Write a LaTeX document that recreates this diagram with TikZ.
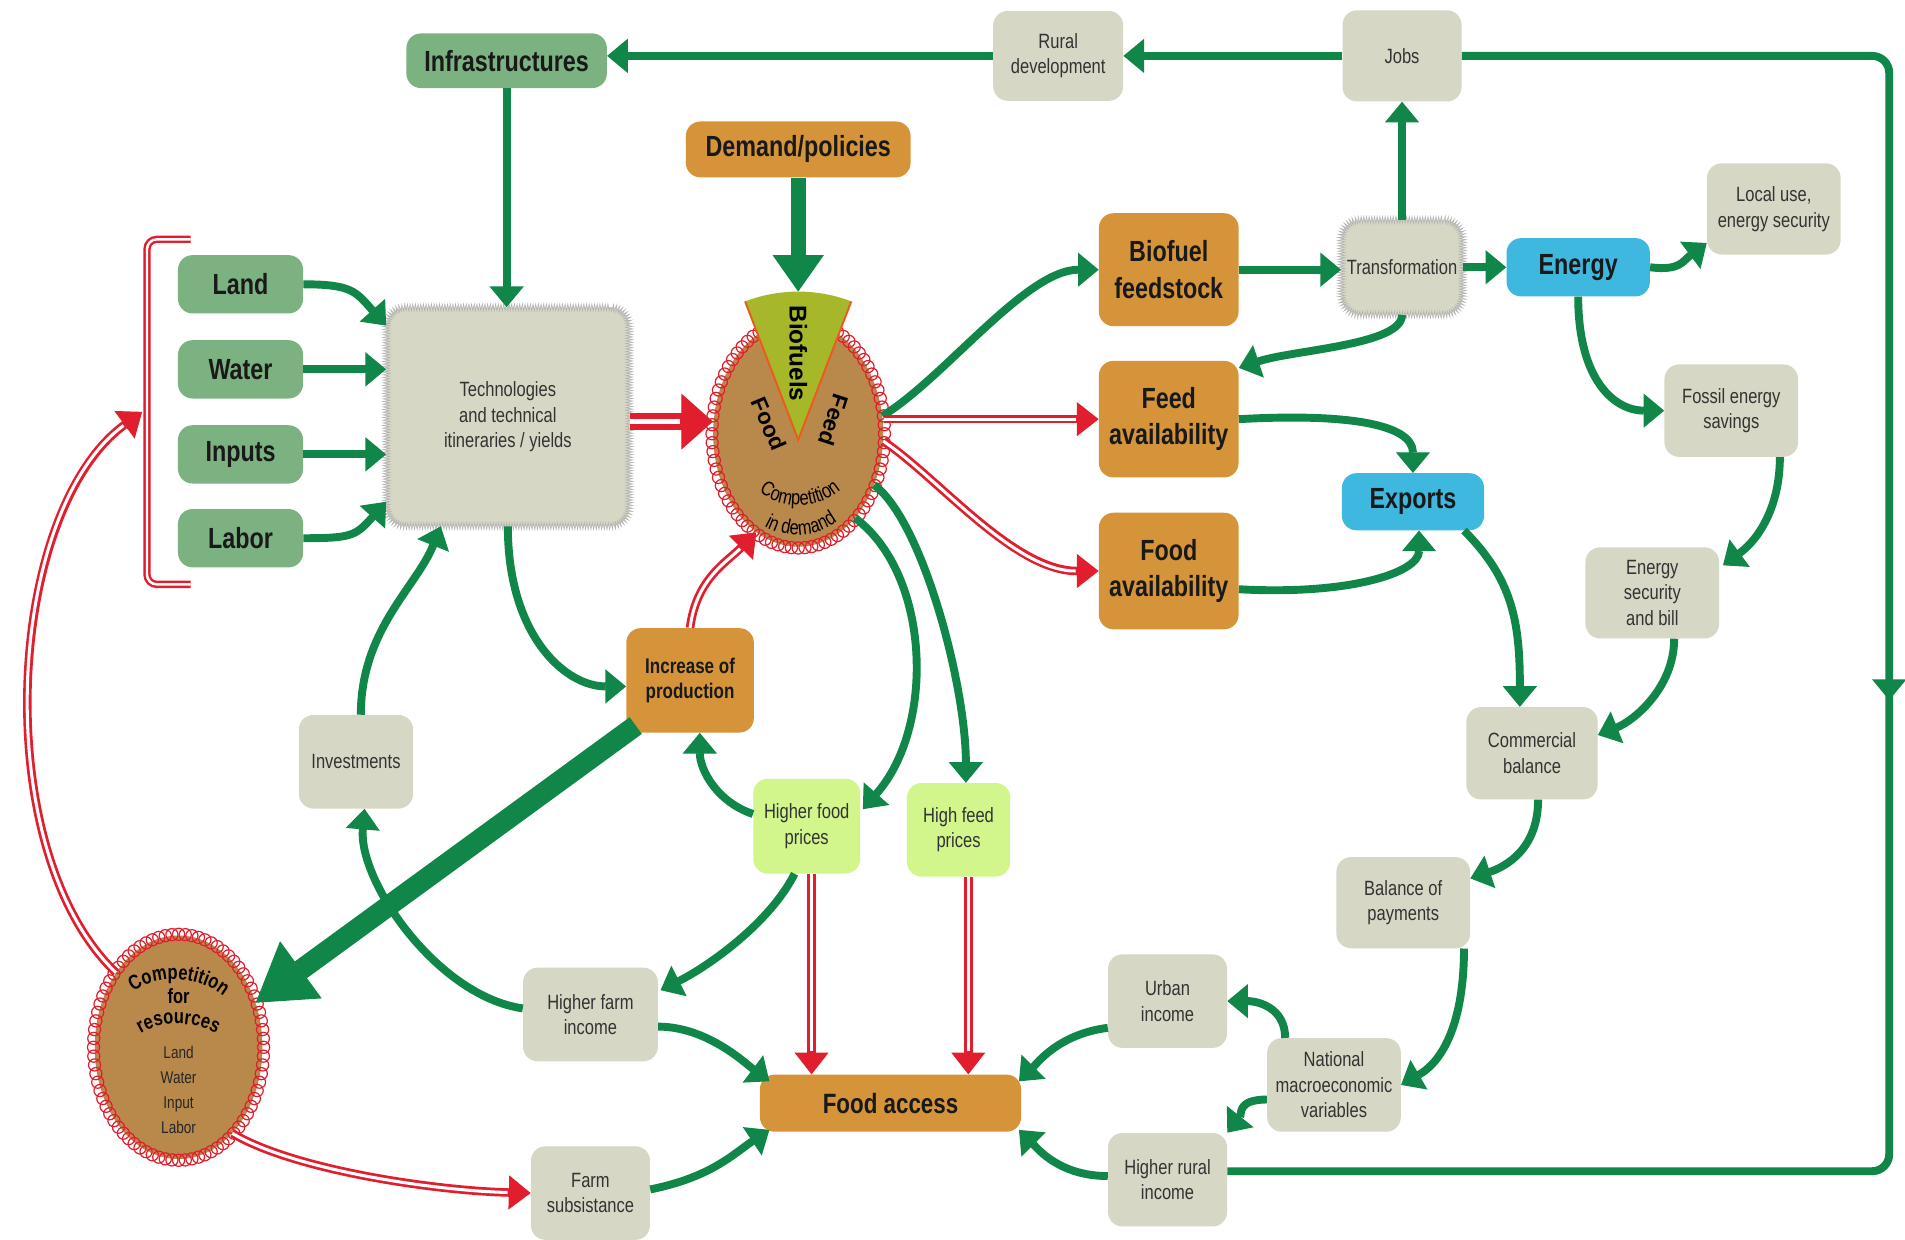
\documentclass[tikz,border=0pt]{standalone}
\usepackage{fontspec}
\setmainfont{Liberation Sans}[FakeStretch=0.8]
\newfontfamily\widefont{Liberation Sans}
\usetikzlibrary{arrows.meta,calc,positioning,shapes.geometric,decorations.text,decorations.markings,decorations.pathmorphing}

\definecolor{arrowgreen}{RGB}{16,135,72}
\definecolor{boxgreen}{RGB}{124,178,130}
\definecolor{boxbeige}{RGB}{215,215,197}
\definecolor{boxorange}{RGB}{214,148,58}
\definecolor{boxblue}{RGB}{62,184,222}
\definecolor{boxlime}{RGB}{210,245,140}
\definecolor{circbrown}{RGB}{185,137,75}
\definecolor{wedgegreen}{RGB}{166,184,42}
\definecolor{wedgeline}{RGB}{235,90,30}
\definecolor{arrowred}{RGB}{225,30,45}

\tikzstyle{box} = [rounded corners=12pt, inner sep=2pt, align=center, text=black!90]
\tikzstyle{greenbox} = [box, fill=boxgreen, font=\bfseries\fontsize{24}{28}\selectfont]
\tikzstyle{orangebox} = [box, fill=boxorange, font=\bfseries\fontsize{24}{30}\selectfont]
\tikzstyle{bluebox} = [box, fill=boxblue, font=\bfseries\fontsize{24}{28}\selectfont]
\tikzstyle{beigebox} = [box, fill=boxbeige, text=black!80, font=\fontsize{17}{21}\selectfont]
\tikzstyle{limebox} = [beigebox, fill=boxlime]
\tikzstyle{fuzzybox} = [beigebox, rounded corners=16pt, postaction={draw=gray!60, line width=0.5pt, sharp corners, decorate, decoration={zigzag, segment length=2.2pt, amplitude=2.8pt}}]
\tikzstyle{brownell} = [ellipse, fill=circbrown, inner sep=0pt]
\tikzstyle{gline} = [draw=arrowgreen, line width=6.5pt]
\tikzstyle{garrow} = [gline, -{Triangle[width=28pt,length=17pt,line width=1pt]}]
\tikzstyle{thickgarrow} = [draw=arrowgreen, line width=12pt, -{Triangle[width=42pt,length=30pt,line width=1pt]}]
\tikzstyle{hugegarrow} = [draw=arrowgreen, line width=17pt, -{Triangle[width=58pt,length=46pt,line width=1pt]}]
\tikzstyle{rarrow} = [draw=arrowred, line width=7pt, -{Triangle[width=28pt,length=18pt,line width=1pt]}, postaction={draw=white, line width=2.5pt, arrows=-, shorten >=19pt}]
\tikzstyle{bigrarrow} = [draw=arrowred, line width=14pt, -{Triangle[width=46pt,length=26pt,line width=1pt]}, postaction={draw=white, line width=4pt, arrows=-, shorten >=27pt}]
\tikzstyle{rline} = [draw=arrowred, line width=6pt, postaction={draw=white, line width=2pt}]
\tikzstyle{ringloop} = [draw=arrowred, line width=1pt]

\begin{document}
\begin{tikzpicture}[x=1pt, y=-1pt]
\useasboundingbox (0,0) rectangle (1568,1020);
\fill[white] (0,0) rectangle (1568,1020);

%top row
\node[greenbox, minimum width=165pt, minimum height=45pt] (infra) at (417,50) {Infrastructures};
\node[beigebox, minimum width=107pt, minimum height=74pt] (rural) at (871,46) {Rural\\development};
\node[beigebox, minimum width=98pt, minimum height=75pt] (jobs) at (1154,46) {Jobs};
\node[orangebox, minimum width=185pt, minimum height=46pt] (demand) at (657,123) {Demand/policies};

%resources
\node[greenbox, minimum width=103pt, minimum height=48pt] (land) at (198,234) {Land};
\node[greenbox, minimum width=103pt, minimum height=48pt] (water) at (198,304) {Water};
\node[greenbox, minimum width=103pt, minimum height=48pt] (inputs) at (198,374) {Inputs};
\node[greenbox, minimum width=103pt, minimum height=48pt] (labor) at (198,443) {Labor};
\node[fuzzybox, minimum width=200pt, minimum height=180pt] (tech) at (418,343) {Technologies\\and technical\\itineraries / yields};

%biofuel chain
\node[orangebox, minimum width=115pt, minimum height=93pt] (biofuel) at (962,222) {Biofuel\\feedstock};
\node[fuzzybox, minimum width=100pt, minimum height=78pt] (transf) at (1154,220) {Transformation};
\node[bluebox, minimum width=118pt, minimum height=48pt] (energy) at (1299,220) {Energy};
\node[beigebox, minimum width=110pt, minimum height=75pt] (localuse) at (1460,172) {Local use,\\energy security};
\node[orangebox, minimum width=115pt, minimum height=96pt] (feedav) at (962,345) {Feed\\availability};
\node[orangebox, minimum width=115pt, minimum height=96pt] (foodav) at (962,470) {Food\\availability};
\node[beigebox, minimum width=110pt, minimum height=76pt] (fossil) at (1425,338) {Fossil energy\\savings};
\node[bluebox, minimum width=117pt, minimum height=47pt] (exports) at (1163,413) {Exports};
\node[beigebox, minimum width=110pt, minimum height=75pt] (ensec) at (1360,488) {Energy\\security\\and bill};
\node[beigebox, minimum width=108pt, minimum height=76pt] (commerc) at (1261,620) {Commercial\\balance};
\node[beigebox, minimum width=110pt, minimum height=75pt] (balance) at (1155,743) {Balance of\\payments};
\node[beigebox, minimum width=110pt, minimum height=77pt] (natmacro) at (1098,893) {National\\macroeconomic\\variables};
\node[beigebox, minimum width=98pt, minimum height=77pt] (urban) at (961,824) {Urban\\income};
\node[beigebox, minimum width=98pt, minimum height=77pt] (hrural) at (961,971) {Higher rural\\income};

%middle and bottom
\node[orangebox, minimum width=105pt, minimum height=86pt, font=\bfseries\fontsize{17.5}{21}\selectfont] (incr) at (568,560) {Increase of\\production};
\node[beigebox, minimum width=94pt, minimum height=77pt] (invest) at (293,627) {Investments};
\node[limebox, minimum width=88pt, minimum height=78pt] (hfood) at (664,680) {Higher food\\prices};
\node[limebox, minimum width=85pt, minimum height=77pt] (hfeed) at (789,683) {High feed\\prices};
\node[beigebox, minimum width=111pt, minimum height=77pt] (hfarm) at (486,835) {Higher farm\\income};
\node[orangebox, minimum width=215pt, minimum height=47pt, font=\bfseries\fontsize{23}{26}\selectfont] (foodaccess) at (733,908) {Food access};
\node[beigebox, minimum width=98pt, minimum height=77pt] (farmsub) at (486,982) {Farm\\subsistance};

%competition in demand
\node[brownell, minimum width=140pt, minimum height=186pt] (dcirc) at (657,357) {};
\foreach \a in {0,4.5,...,355.5}
    \draw[ringloop] (dcirc.center) ++(\a:71 and 94) circle[radius=5];
\coordinate (wapex) at (657,362);
\coordinate (wleft) at (613.3,248.1);
\coordinate (wright) at (700.7,248.1);
\coordinate (wtop) at (657,240);
\fill[wedgegreen] (wapex) -- (wleft) arc[start angle=-111, end angle=-69, radius=122] -- cycle;
\draw[wedgeline, line width=1.6pt] (wleft) -- (wapex) -- (wright);
\node[rotate=-90, font=\widefont\bfseries\fontsize{20}{20}\selectfont] (biotxt) at (657,291) {Biofuels};
\node[rotate=-67, font=\widefont\bfseries\fontsize{18.5}{18.5}\selectfont] (foodtxt) at (633,349) {Food};
\node[rotate=-108, font=\widefont\bfseries\fontsize{18.5}{18.5}\selectfont] (feedtxt) at (686,346) {Feed};
\path[decorate, decoration={text along path, text align=center, text={|\fontsize{17}{17}\selectfont|Competition}}]
    (618,397) .. controls (635,422) and (680,422) .. (699,396);
\path[decorate, decoration={text along path, text align=center, text={|\fontsize{17}{17}\selectfont|in demand}}]
    (618,425) .. controls (640,446) and (678,446) .. (699,420);

%competition for resources
\node[brownell, minimum width=138pt, minimum height=184pt] (rescirc) at (147,862) {};
\foreach \a in {0,4.5,...,355.5}
    \draw[ringloop] (rescirc.center) ++(\a:70 and 93) circle[radius=5];
\path[decorate, decoration={text along path, text align=center, text={|\bfseries\fontsize{17}{17}\selectfont|Competition}}]
    (100,826) .. controls (118,799) and (170,799) .. (194,830);
\node[font=\bfseries\fontsize{17}{17}\selectfont] (fortxt) at (147,820) {for};
\path[decorate, decoration={text along path, text align=center, text={|\bfseries\fontsize{17}{17}\selectfont|resources}}]
    (108,857) .. controls (125,838) and (167,838) .. (186,857);
\node[align=center, text=black!85, font=\fontsize{14}{20.5}\selectfont] (restxt) at (147,897) {Land\\Water\\Input\\Labor};

%bracket
\draw[rline, rounded corners=8pt] (157,197) -- (121,197) -- (121,481) -- (157,481);
\coordinate (brk) at (117,339);

%top connectors
\draw[garrow] (jobs.west) -- (rural.east);
\draw[garrow] (rural.west) -- (infra.east |- rural.west);
\draw[gline, rounded corners=14pt, postaction={decorate, decoration={markings, mark=at position 0.486 with {\arrow{Triangle[width=28pt,length=17pt,line width=1pt]}}}}]
    (jobs.east) -- (1555,46) -- (1555,964) -- ($(hrural.east)+(0,-7)$);
\draw[garrow] (infra.south) -- (infra.south |- tech.north);
\draw[thickgarrow] (demand.south) -- (wtop);

%into technologies
\draw[garrow] (land.east) .. controls +(40,0) and +(-25,-28) .. ($(tech.west)+(0,-75)$);
\draw[garrow] (water.east) -- (tech.west |- water.east);
\draw[garrow] (inputs.east) -- (tech.west |- inputs.east);
\draw[garrow] (labor.east) .. controls +(40,0) and +(-25,28) .. ($(tech.west)+(0,70)$);
\draw[bigrarrow] ($(tech.east)+(0,4)$) -- (dcirc.west |- 0,347);

%out of competition in demand
\draw[garrow] (dcirc.12) .. controls +(50,-30) and +(-60,0) .. (biofuel.west);
\draw[rarrow] (dcirc.east |- feedav.west) -- (feedav.west);
\draw[rarrow] (dcirc.-5) .. controls +(45,30) and +(-70,0) .. (foodav.west);
\draw[garrow] (dcirc.-56) .. controls +(62,46) and +(60,-68) .. ($(hfood.east)+(2,-14)$);
\draw[garrow] (dcirc.-34) .. controls +(40,30) and +(0,-80) .. ($(hfeed.north)+(6,0)$);

%energy side
\draw[garrow] (biofuel.east) -- (transf.west |- biofuel.east);
\draw[garrow] (transf.east) -- (energy.west);
\draw[garrow] (transf.north) -- (jobs.south);
\draw[garrow] (transf.south) .. controls +(0,25) and +(45,-15) .. ($(feedav.north east)+(0,6)$);
\draw[garrow] (energy.east) .. controls +(25,3) and +(-20,15) .. ($(localuse.west)+(0,28)$);
\draw[garrow] (energy.south) .. controls +(0,70) and +(-40,0) .. (fossil.west);
\draw[garrow] ($(fossil.south)+(40,0)$) .. controls +(0,40) and +(30,-22) .. ($(ensec.north east)+(3,15)$);
\draw[garrow] ($(ensec.south)+(18,0)$) .. controls +(0,40) and +(30,-12) .. ($(commerc.east)+(0,-15)$);
\draw[garrow] (feedav.east) .. controls +(90,-5) and +(0,-40) .. (exports.north);
\draw[garrow] ($(foodav.east)+(0,15)$) .. controls +(90,5) and +(0,35) .. ($(exports.south)+(5,0)$);
\draw[garrow] ($(exports.south)+(42,0)$) .. controls +(40,40) and +(0,-70) .. ($(commerc.north)+(-10,0)$);
\draw[garrow] ($(commerc.south)+(5,0)$) .. controls +(0,40) and +(30,-10) .. ($(balance.east)+(0,-20)$);
\draw[garrow] ($(balance.south)+(50,0)$) .. controls +(0,60) and +(35,-20) .. (natmacro.east);
\draw[garrow] ($(natmacro.north west)+(15,0)$) .. controls +(0,-25) and +(25,0) .. (urban.east);
\draw[garrow] ($(natmacro.west)+(0,12)$) .. controls +(-25,0) and +(12,-15) .. (hrural.north east);
\draw[garrow] ($(urban.west)+(0,22)$) .. controls +(-40,5) and +(15,-15) .. ($(foodaccess.east)+(-2,-18)$);
\draw[garrow] ($(hrural.west)+(0,-3)$) .. controls +(-40,0) and +(15,15) .. ($(foodaccess.east)+(-2,22)$);

%production loop
\draw[garrow] (tech.south) .. controls +(0,90) and +(-50,0) .. ($(incr.west)+(0,5)$);
\draw[hugegarrow] ($(incr.south west)+(8,-6)$) -- (rescirc.30);
\draw[rarrow] (incr.north) .. controls +(5,-40) and +(-25,25) .. (dcirc.247);
\draw[garrow] ($(hfood.west)+(0,-10)$) .. controls +(-30,-10) and +(0,30) .. ($(incr.south)+(8,0)$);
\coordinate (hfoodr) at ($(hfood.south)+(4,0)$);
\coordinate (hfeedr) at ($(hfeed.south)+(8,0)$);
\draw[rarrow] (hfoodr) -- (hfoodr |- foodaccess.north);
\draw[rarrow] (hfeedr) -- (hfeedr |- foodaccess.north);
\draw[garrow] ($(hfood.south)+(-10,0)$) .. controls +(-20,40) and +(40,-20) .. ($(hfarm.east)+(2,-20)$);
\draw[garrow] ($(hfarm.east)+(0,10)$) .. controls +(40,0) and +(-20,-15) .. ($(foodaccess.west)+(8,-18)$);
\draw[garrow] ($(hfarm.west)+(0,-5)$) .. controls +(-70,-10) and +(-5,60) .. ($(invest.south)+(7,0)$);
\draw[garrow] ($(invest.north)+(4,0)$) .. controls +(0,-70) and +(-20,50) .. ($(tech.south west)+(45,0)$);
\draw[garrow] ($(farmsub.east)+(0,-3)$) .. controls +(50,-10) and +(-30,20) .. ($(foodaccess.west)+(8,22)$);

%competition for resources links
\draw[rarrow] (rescirc.-58) .. controls +(50,30) and +(-80,-2) .. (farmsub.west);
\draw[rarrow] (rescirc.130) .. controls +(-105,-100) and +(-113,83) .. (brk);
\end{tikzpicture}
\end{document}
